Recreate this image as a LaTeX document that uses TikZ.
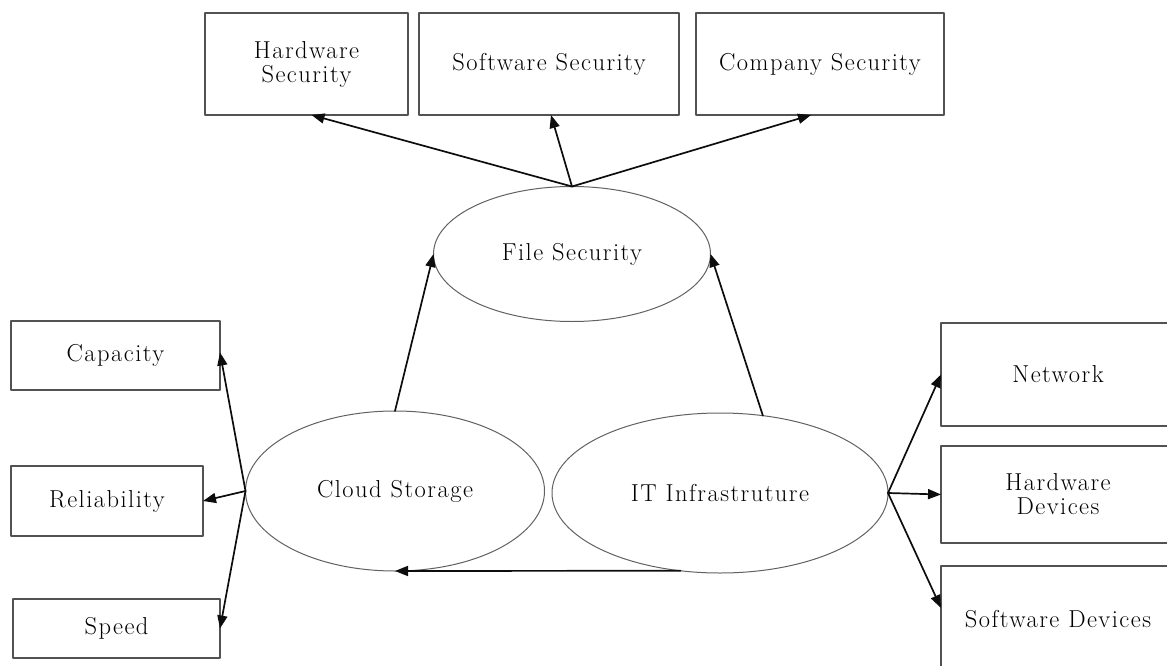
\documentclass[tikz,border=0pt]{standalone}
\usepackage{fontspec}
\setmainfont{Latin Modern Roman}[LetterSpace=6.0]
\usepackage{tikz}
\usetikzlibrary{arrows.meta,shapes.geometric}
\definecolor{MapInk}{gray}{0.05}
\definecolor{MapEdge}{gray}{0.32}
\definecolor{MapOval}{gray}{0.38}
\tikzset{
    map/diagram/.style={
        font=\fontsize{24.5}{24}\selectfont,
        line cap=round,
        line join=round,
        every node/.style={inner sep=0pt, outer sep=0pt}
    },
    map/box/.style={rectangle, draw=MapEdge, line width=1.3pt, align=center},
    map/oval/.style={ellipse, draw=MapOval, line width=1pt, align=center},
    map/arrow/.style={
        draw=MapInk, line width=1.7pt,
        -{Triangle[length=13pt, width=10pt]}
    }
}

\begin{document}
\begin{tikzpicture}[map/diagram, x=1pt, y=-1pt]
    \useasboundingbox (0,0) rectangle (1167,666);
    % security row
    \node[map/box, minimum width=203pt, minimum height=102pt] (hwsec) at (306.5,64) {Hardware\\Security};
    \node[map/box, minimum width=260pt, minimum height=102pt] (swsec) at (549,64) {Software Security};
    \node[map/box, minimum width=248pt, minimum height=102pt] (cosec) at (820,64) {Company Security};
    % ovals
    \node[map/oval, minimum width=277pt, minimum height=135pt] (filesec) at (572,254) {File Security};
    \node[map/oval, minimum width=299pt, minimum height=160pt] (cloud) at (395,491) {Cloud Storage};
    \node[map/oval, minimum width=336pt, minimum height=160pt] (itinfra) at (720,493) {IT Infrastruture};
    % left column
    \node[map/box, minimum width=209pt, minimum height=69pt] (capacity) at (115.5,355.5) {Capacity};
    \node[map/box, minimum width=192pt, minimum height=70pt] (reliab) at (107,501) {Reliability};
    \node[map/box, minimum width=207pt, minimum height=59pt] (speed) at (116.5,628.5) {Speed};
    % right column
    \node[map/box, minimum width=234pt, minimum height=103pt] (network) at (1058,374.5) {Network};
    \node[map/box, minimum width=234pt, minimum height=97pt] (hwdev) at (1058,494.5) {Hardware\\Devices};
    \node[map/box, minimum width=234pt, minimum height=106pt] (swdev) at (1058,619) {Software Devices};

    \draw[map/arrow] (filesec.north) -- ([xshift=5pt]hwsec.south);
    \draw[map/arrow] (filesec.north) -- ([xshift=2pt]swsec.south);
    \draw[map/arrow] (filesec.north) -- ([xshift=-9pt]cosec.south);
    \draw[map/arrow] (cloud.north) -- (filesec.west);
    \draw[map/arrow] (itinfra.61) -- (filesec.east);
    \draw[map/arrow] (itinfra.243) -- (cloud.south);
    \draw[map/arrow] (cloud.west) -- ([yshift=3pt]capacity.east);
    \draw[map/arrow] (cloud.west) -- (reliab.east);
    \draw[map/arrow] (cloud.west) -- (speed.east);
    \draw[map/arrow] (itinfra.east) -- (network.west);
    \draw[map/arrow] (itinfra.east) -- (hwdev.west);
    \draw[map/arrow] (itinfra.east) -- ([yshift=11pt]swdev.west);
\end{tikzpicture}
\end{document}
